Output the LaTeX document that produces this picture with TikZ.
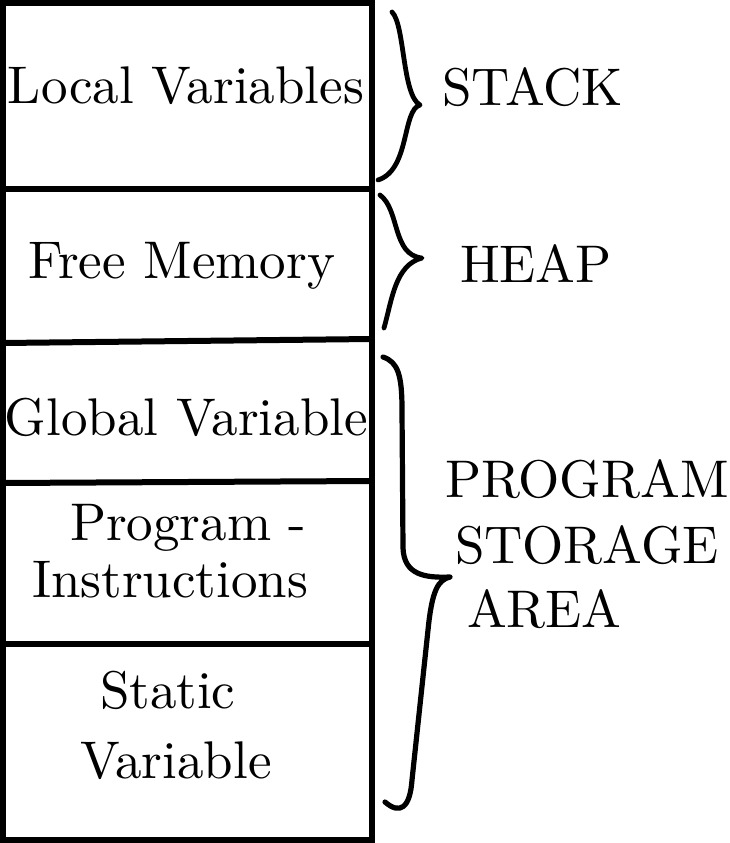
\documentclass[tikz,border=0pt]{standalone}
\begin{document}
\begin{tikzpicture}[x=1pt,y=-1pt,
  lbl/.style={anchor=base west,inner sep=0pt,outer sep=0pt,scale=5.3,transform shape},
  boxline/.style={line width=6pt,line cap=rect},
  brace/.style={line width=4.8pt,line cap=round,line join=round}]
\useasboundingbox (0,0) rectangle (729,843);
% memory column
\coordinate (tl) at (3,3);
\coordinate (br) at (371.5,840);
\draw[boxline] (tl) rectangle (br);
\coordinate (l1) at (3,189);   \coordinate (r1) at (371.5,189);
\coordinate (l2) at (3,343);   \coordinate (r2) at (371.5,339);
\coordinate (l3) at (3,483);   \coordinate (r3) at (371.5,481);
\coordinate (l4) at (3,644);   \coordinate (r4) at (371.5,644);
\draw[boxline] (l1) -- (r1);
\draw[boxline] (l2) -- (r2);
\draw[boxline] (l3) -- (r3);
\draw[boxline] (l4) -- (r4);
% box texts
\node[lbl] (local) at (8,103) {Local Variables};
\node[lbl] (free) at (28,278) {Free Memory};
\node[lbl] (global) at (5,435) {Global Variable};
\node[lbl] (prog) at (70,540) {Program -};
\node[lbl] (instr) at (32,597) {Instructions};
\node[lbl] (static) at (100,708) {Static};
\node[lbl] (statvar) at (80,778) {Variable};
% braces
\draw[brace] (392,12) .. controls (405,25) and (402,95) .. (420,105)
  .. controls (402,110) and (410,170) .. (378,180);
\draw[brace] (380,195) .. controls (400,210) and (392,255) .. (422,258)
  .. controls (395,265) and (392,300) .. (384,328);
\draw[brace,line width=5.2pt] (383,357) .. controls (398,362) and (402,375) .. (402,410)
  -- (403,548) .. controls (404,575) and (425,578) .. (450,577)
  .. controls (438,580) and (432,590) .. (428,630)
  -- (412,780) .. controls (410,808) and (400,815) .. (385,802);
% labels
\node[lbl] (stack) at (442,105) {STACK};
\node[lbl] (heap) at (460,282) {HEAP};
\node[lbl] (psa1) at (445,497) {PROGRAM};
\node[lbl] (psa2) at (455,563) {STORAGE};
\node[lbl] (psa3) at (467,627) {AREA};
\end{tikzpicture}
\end{document}
